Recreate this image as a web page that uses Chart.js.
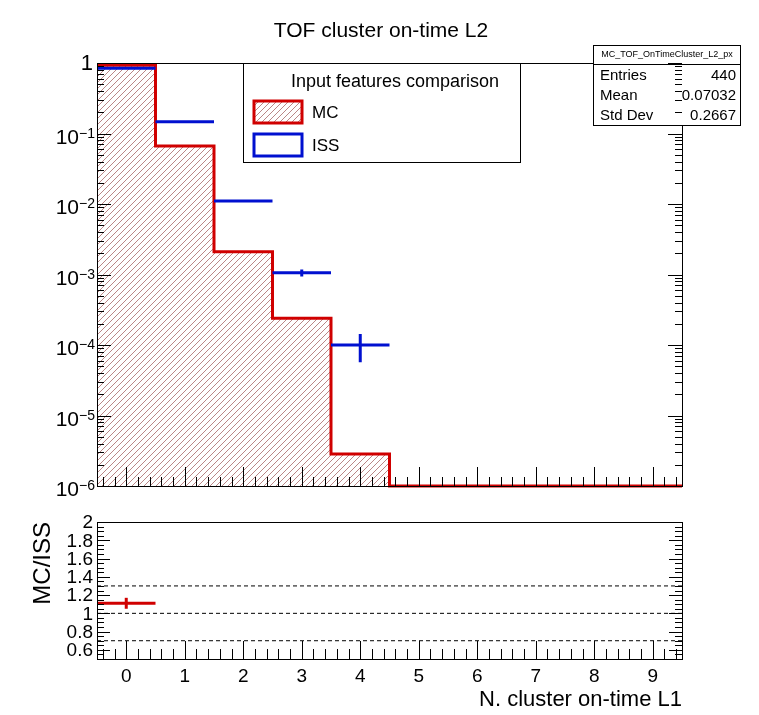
<!DOCTYPE html>
<html>
<head>
<meta charset="utf-8">
<title>TOF cluster on-time L2</title>
<script src="https://cdn.jsdelivr.net/npm/chart.js@4.4.1/dist/chart.umd.min.js"></script>
<style>
  body { margin: 0; background: #fff; }
  #wrap { position: relative; width: 759px; height: 715px; }
  canvas { position: absolute; left: 0; }
  #top { top: 0; }
  #bottom { top: 500px; }
</style>
</head>
<body>
<div id="wrap">
  <canvas id="top" width="759" height="500"></canvas>
  <canvas id="bottom" width="759" height="215"></canvas>
</div>
<script>
// bin centres (number of on-time clusters)
const bins = [0, 1, 2, 3, 4, 5, 6, 7, 8, 9];

// normalised distributions, empty bins are 0
const mcValues  = [0.931, 0.0665, 0.0021, 0.00024, 0.00000285, 0, 0, 0, 0, 0];
const issValues = [0.84, 0.147, 0.011, 0.00106, 0.000100, 0, 0, 0, 0, 0];
const issErrors = [0.002, 0.0015, 0.0003, 0.00012, 0.000043, 0, 0, 0, 0, 0];

// MC/ISS ratio (only first bin filled)
const ratioValues = [1.11, null, null, null, null, null, null, null, null, null];
const ratioErrors = [0.06, 0, 0, 0, 0, 0, 0, 0, 0, 0];
const ratioRefLines = [0.7, 1.0, 1.3];

// tick labels
const logExponents = [0, -1, -2, -3, -4, -5, -6];
const ratioTickLabels = ['0.6', '0.8', '1', '1.2', '1.4', '1.6', '1.8', '2'];
const xTickLabels = ['0', '1', '2', '3', '4', '5', '6', '7', '8', '9'];

// stats box
const statsName = 'MC_TOF_OnTimeCluster_L2_px';
const statsRows = [['Entries', '440'], ['Mean', '0.07032'], ['Std Dev', '0.2667']];

const X_MIN = -0.5, X_MAX = 9.5;
const LOG_MIN = 1e-6, LOG_MAX = 1;
const RATIO_MIN = 0.5, RATIO_MAX = 2;
const FONT = '"Liberation Sans", Arial, Helvetica, sans-serif';
const RED = '#d00000', BLUE = '#0010d0';

Chart.defaults.font.family = FONT;

// ---- helpers building point lists from the arrays ----
function histSteps(vals, floor) {
  const pts = bins.map((b, i) => ({ x: b - 0.5, y: Math.max(vals[i], floor) }));
  pts.push({ x: bins[bins.length - 1] + 0.5, y: Math.max(vals[vals.length - 1], floor) });
  return pts;
}

function hBars(vals) {
  const pts = [];
  bins.forEach((b, i) => {
    if (!vals[i]) return;
    pts.push({ x: b - 0.5, y: vals[i] }, { x: b + 0.5, y: vals[i] }, { x: b + 0.5, y: null });
  });
  return pts;
}

function vBars(vals, errs) {
  const pts = [];
  bins.forEach((b, i) => {
    if (!vals[i] || !errs[i]) return;
    pts.push({ x: b, y: vals[i] - errs[i] }, { x: b, y: vals[i] + errs[i] }, { x: b, y: null });
  });
  return pts;
}

function flatLines(levels) {
  const pts = [];
  levels.forEach(v => pts.push({ x: X_MIN, y: v }, { x: X_MAX, y: v }, { x: X_MAX, y: null }));
  return pts;
}

// "////" hatch used for the MC fill
function hatchPattern(ctx) {
  const s = 6;
  const c = document.createElement('canvas');
  c.width = s; c.height = s;
  const g = c.getContext('2d');
  g.strokeStyle = 'rgba(140,55,55,0.6)';
  g.lineWidth = 1;
  g.beginPath();
  g.moveTo(0, s); g.lineTo(s, 0);
  g.moveTo(-1, 1); g.lineTo(1, -1);
  g.moveTo(s - 1, s + 1); g.lineTo(s + 1, s - 1);
  g.stroke();
  return ctx.createPattern(c, 'repeat');
}

function line(ctx, x1, y1, x2, y2) {
  ctx.beginPath();
  ctx.moveTo(x1, y1);
  ctx.lineTo(x2, y2);
  ctx.stroke();
}

// inward ROOT-style ticks along the bottom
function xTicks(ctx, chart, majorLen, minorLen) {
  const xs = chart.scales.x, a = chart.chartArea;
  for (let j = -2; j <= 47; j++) {
    const v = j * 0.2;
    if (v < X_MIN || v > X_MAX) continue;
    const px = Math.round(xs.getPixelForValue(v)) + 0.5;
    const len = (j % 5 === 0) ? majorLen : minorLen;
    line(ctx, px, a.bottom, px, a.bottom - len);
  }
}

function yTick(ctx, a, py, len) {
  py = Math.round(py) + 0.5;
  line(ctx, a.left, py, a.left + len, py);
  line(ctx, a.right, py, a.right - len, py);
}

const hatch = hatchPattern(document.getElementById('top').getContext('2d'));

// ---- upper panel decorations ----
const upperDecor = {
  id: 'upperDecor',
  beforeDatasetsDraw(chart) {
    const ctx = chart.ctx;
    ctx.save();
    ctx.fillStyle = '#000';
    ctx.font = '21px ' + FONT;
    ctx.textAlign = 'center';
    ctx.textBaseline = 'middle';
    ctx.fillText('TOF cluster on-time L2', 381, 31);
    ctx.restore();
  },
  afterDatasetsDraw(chart) {
    const ctx = chart.ctx, a = chart.chartArea, ys = chart.scales.y;
    ctx.save();
    ctx.strokeStyle = '#000';
    ctx.lineWidth = 1;
    ctx.strokeRect(a.left + 0.5, a.top + 0.5, a.right - a.left, a.bottom - a.top);

    // legend
    ctx.fillStyle = '#fff';
    ctx.fillRect(243.5, 63.5, 277, 99);
    ctx.strokeRect(243.5, 63.5, 277, 99);
    ctx.fillStyle = '#000';
    ctx.font = '18px ' + FONT;
    ctx.textAlign = 'center';
    ctx.textBaseline = 'middle';
    ctx.fillText('Input features comparison', 395, 82);
    ctx.lineWidth = 3;
    ctx.fillStyle = hatch;
    ctx.fillRect(254, 101, 48, 22);
    ctx.strokeStyle = RED;
    ctx.strokeRect(254, 101, 48, 22);
    ctx.strokeStyle = BLUE;
    ctx.strokeRect(254, 134, 48, 22);
    ctx.fillStyle = '#000';
    ctx.textAlign = 'left';
    ctx.font = '17px ' + FONT;
    ctx.fillText('MC', 312, 113);
    ctx.fillText('ISS', 312, 146);

    // stats box
    ctx.lineWidth = 1;
    ctx.strokeStyle = '#000';
    ctx.fillStyle = '#fff';
    ctx.fillRect(593.5, 45.5, 147, 80);
    ctx.strokeRect(593.5, 45.5, 147, 80);
    line(ctx, 593.5, 64.5, 740.5, 64.5);
    ctx.fillStyle = '#000';
    ctx.font = '9px ' + FONT;
    ctx.textAlign = 'center';
    ctx.fillText(statsName, 667, 55);
    ctx.font = '15px ' + FONT;
    statsRows.forEach((r, i) => {
      const y = 76 + i * 20;
      ctx.textAlign = 'left';
      ctx.fillText(r[0], 600, y);
      ctx.textAlign = 'right';
      ctx.fillText(r[1], 736, y);
    });

    // ticks
    for (let k = -6; k <= 0; k++) {
      const dec = Math.pow(10, k);
      yTick(ctx, a, ys.getPixelForValue(dec), 14);
      if (k < 0) {
        for (let m = 2; m <= 9; m++) yTick(ctx, a, ys.getPixelForValue(m * dec), 7);
      }
    }
    xTicks(ctx, chart, 19, 9);

    // log labels
    ctx.textAlign = 'right';
    logExponents.forEach(k => {
      const py = ys.getPixelForValue(Math.pow(10, k));
      if (k === 0) {
        ctx.font = '22px ' + FONT;
        ctx.textBaseline = 'middle';
        ctx.fillText('1', 93, py + 1);
        return;
      }
      ctx.font = '14px ' + FONT;
      const sup = '\u2212' + (-k);
      const sw = ctx.measureText(sup).width;
      ctx.textBaseline = 'alphabetic';
      ctx.fillText(sup, 95, py + 4);
      ctx.font = '21px ' + FONT;
      ctx.fillText('10', 95 - sw, py + 10);
    });
    ctx.restore();
  }
};

// ---- lower panel decorations ----
const lowerDecor = {
  id: 'lowerDecor',
  afterDatasetsDraw(chart) {
    const ctx = chart.ctx, a = chart.chartArea, ys = chart.scales.y, xs = chart.scales.x;
    ctx.save();
    ctx.strokeStyle = '#000';
    ctx.lineWidth = 1;
    ctx.strokeRect(a.left + 0.5, a.top + 0.5, a.right - a.left, a.bottom - a.top);

    for (let j = 10; j <= 40; j++) {
      const v = j * 0.05;
      yTick(ctx, a, ys.getPixelForValue(v), (j % 4 === 0 && j >= 12) ? 13 : 7);
    }
    xTicks(ctx, chart, 18, 10);

    ctx.fillStyle = '#000';
    ctx.font = '19px ' + FONT;
    ctx.textAlign = 'right';
    ctx.textBaseline = 'middle';
    ratioTickLabels.forEach(t => ctx.fillText(t, 93, ys.getPixelForValue(parseFloat(t)) + 1));

    ctx.font = '19px ' + FONT;
    ctx.textAlign = 'center';
    xTickLabels.forEach((t, i) => ctx.fillText(t, xs.getPixelForValue(bins[i]), 177));

    ctx.font = '22px ' + FONT;
    ctx.textAlign = 'right';
    ctx.textBaseline = 'alphabetic';
    ctx.fillText('N. cluster on-time L1', 682, 206);

    ctx.font = '24px ' + FONT;
    ctx.translate(50, a.top);
    ctx.rotate(-Math.PI / 2);
    ctx.textAlign = 'right';
    ctx.fillText('MC/ISS', 0, 0);
    ctx.restore();
  }
};

const noPoint = { pointRadius: 0, pointHoverRadius: 0 };

new Chart(document.getElementById('top'), {
  type: 'line',
  data: {
    datasets: [
      { data: hBars(issValues), borderColor: BLUE, borderWidth: 3, ...noPoint, clip: 4 },
      { data: vBars(issValues, issErrors), borderColor: BLUE, borderWidth: 3, ...noPoint, clip: 4 },
      {
        data: histSteps(mcValues, LOG_MIN),
        stepped: 'before',
        borderColor: RED,
        borderWidth: 3,
        backgroundColor: hatch,
        fill: 'start',
        ...noPoint,
        clip: 4
      }
    ]
  },
  options: {
    responsive: false,
    animation: false,
    devicePixelRatio: 1,
    events: [],
    layout: { padding: { left: 97, right: 77, top: 63, bottom: 14 } },
    scales: {
      x: { type: 'linear', min: X_MIN, max: X_MAX, display: false },
      y: { type: 'logarithmic', min: LOG_MIN, max: LOG_MAX, display: false }
    },
    plugins: { legend: { display: false }, tooltip: { enabled: false } }
  },
  plugins: [upperDecor]
});

new Chart(document.getElementById('bottom'), {
  type: 'line',
  data: {
    datasets: [
      { data: hBars(ratioValues), borderColor: RED, borderWidth: 3, ...noPoint },
      { data: vBars(ratioValues, ratioErrors), borderColor: RED, borderWidth: 3, ...noPoint },
      { data: flatLines(ratioRefLines), borderColor: '#000', borderWidth: 1, borderDash: [4, 3], ...noPoint }
    ]
  },
  options: {
    responsive: false,
    animation: false,
    devicePixelRatio: 1,
    events: [],
    layout: { padding: { left: 97, right: 77, top: 22, bottom: 56 } },
    scales: {
      x: { type: 'linear', min: X_MIN, max: X_MAX, display: false },
      y: { type: 'linear', min: RATIO_MIN, max: RATIO_MAX, display: false }
    },
    plugins: { legend: { display: false }, tooltip: { enabled: false } }
  },
  plugins: [lowerDecor]
});
</script>
</body>
</html>
